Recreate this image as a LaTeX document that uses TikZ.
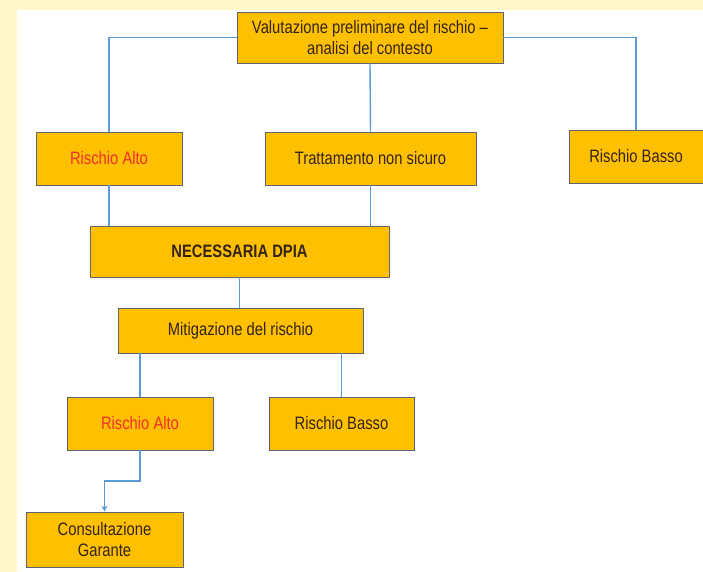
\documentclass[tikz,border=0pt]{standalone}
\usepackage{fontspec}
\setmainfont{Liberation Sans}[FakeStretch=0.82]
\usepackage{xcolor}
\usetikzlibrary{arrows.meta,positioning,calc}
\definecolor{pagebg}{HTML}{FFF6C9}
\definecolor{boxfill}{HTML}{FFC000}
\definecolor{boxline}{HTML}{5E6270}
\definecolor{ink}{HTML}{33231A}
\definecolor{alarm}{HTML}{F0302A}
\definecolor{wire}{HTML}{5B9BD5}
\tikzset{
  stepbox/.style={draw=boxline,fill=boxfill,line width=0.8pt,
                  align=center,inner sep=2pt,text=ink,
                  font=\fontsize{18}{21}\selectfont},
  wirelink/.style={draw=wire,line width=1.4pt},
  wirearr/.style={wirelink,-{Stealth[length=6pt,width=6pt]}}
}

\begin{document}
\begin{tikzpicture}[x=1pt,y=-1pt]
  % page and white sheet
  \fill[pagebg] (0,0) rectangle (703,572);
  \fill[white] (17,10) rectangle (703,572);
  \useasboundingbox (0,0) rectangle (703,572);
  % first level
  \node[stepbox,minimum width=266pt,minimum height=51pt] (prelim) at (370,37.5)
    {Valutazione preliminare del rischio --\\analisi del contesto};
  \node[stepbox,minimum width=146pt,minimum height=53pt,text=alarm] (alto) at (109,158.5)
    {Rischio Alto};
  \node[stepbox,minimum width=211pt,minimum height=53pt] (nonsicuro) at (370.5,158.5)
    {Trattamento non sicuro};
  \node[stepbox,minimum width=134pt,minimum height=53pt] (basso) at (636,156.5)
    {Rischio Basso};
  % dpia and mitigation
  \node[stepbox,minimum width=299pt,minimum height=51pt,
        font=\fontsize{18}{21}\selectfont\bfseries] (dpia) at (239.5,251.5)
    {NECESSARIA DPIA};
  \node[stepbox,minimum width=245pt,minimum height=45pt] (mitig) at (240.5,330.5)
    {Mitigazione del rischio};
  % after mitigation
  \node[stepbox,minimum width=146pt,minimum height=53pt,text=alarm] (residalto) at (140,423.5)
    {Rischio Alto};
  \node[stepbox,minimum width=145pt,minimum height=53pt] (residbasso) at (341.5,423.5)
    {Rischio Basso};
  \node[stepbox,minimum width=157pt,minimum height=55pt] (garante) at (104.5,539.5)
    {Consultazione\\Garante};
  % connectors
  \draw[wirelink] (prelim.west) -| (alto.north);
  \draw[wirelink] (prelim.east) -| (basso.north);
  \draw[wirelink] (prelim.south) -- (nonsicuro.north);
  \draw[wirelink] (alto.south) -- (alto.south |- dpia.north);
  \draw[wirelink] (nonsicuro.south) -- (nonsicuro.south |- dpia.north);
  \draw[wirelink] (dpia.south) -- (dpia.south |- mitig.north);
  \draw[wirelink] (residalto.north |- mitig.south) -- (residalto.north);
  \draw[wirelink] (residbasso.north |- mitig.south) -- (residbasso.north);
  \coordinate (knee) at ($(residalto.south)!0.5!(garante.north)$);
  \draw[wirearr] (residalto.south) |- (knee) -| (garante.north);
\end{tikzpicture}
\end{document}
